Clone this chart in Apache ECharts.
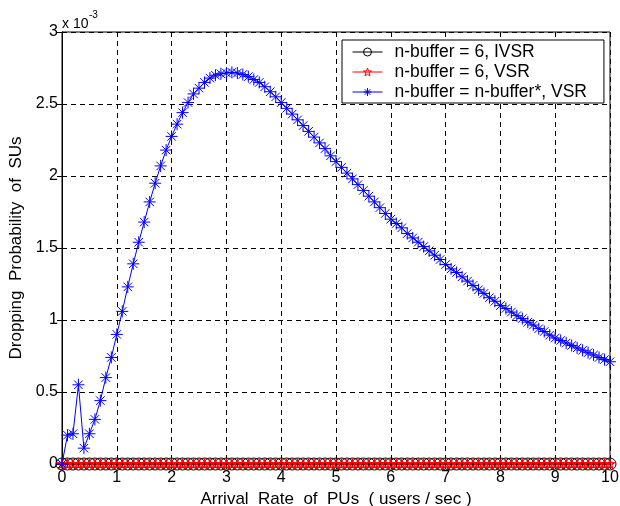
<!DOCTYPE html>
<html>
<head>
<meta charset="utf-8">
<script src="https://cdn.jsdelivr.net/npm/echarts@6/dist/echarts.min.js"></script>
<style>html,body{margin:0;padding:0;background:#fff}#c{width:620px;height:506px}</style>
</head>
<body>
<div id="c"></div>
<script>
// x values: arrival rate (users/sec)
var xValues = [0,0.1,0.2,0.3,0.4,0.5,0.6,0.7,0.8,0.9,1.0,1.1,1.2,1.3,1.4,1.5,1.6,1.7,1.8,1.9,2.0,2.1,2.2,2.3,2.4,2.5,2.6,2.7,2.8,2.9,3.0,3.1,3.2,3.3,3.4,3.5,3.6,3.7,3.8,3.9,4.0,4.1,4.2,4.3,4.4,4.5,4.6,4.7,4.8,4.9,5.0,5.1,5.2,5.3,5.4,5.5,5.6,5.7,5.8,5.9,6.0,6.1,6.2,6.3,6.4,6.5,6.6,6.7,6.8,6.9,7.0,7.1,7.2,7.3,7.4,7.5,7.6,7.7,7.8,7.9,8.0,8.1,8.2,8.3,8.4,8.5,8.6,8.7,8.8,8.9,9.0,9.1,9.2,9.3,9.4,9.5,9.6,9.7,9.8,9.9,10.0];
// dropping probability, in units of 1e-3
var ivsr6 = [0,0,0,0,0,0,0,0,0,0,0,0,0,0,0,0,0,0,0,0,0,0,0,0,0,0,0,0,0,0,0,0,0,0,0,0,0,0,0,0,0,0,0,0,0,0,0,0,0,0,0,0,0,0,0,0,0,0,0,0,0,0,0,0,0,0,0,0,0,0,0,0,0,0,0,0,0,0,0,0,0,0,0,0,0,0,0,0,0,0,0,0,0,0,0,0,0,0,0,0,0];
var vsr6 = [0,0,0,0,0,0,0,0,0,0,0,0,0,0,0,0,0,0,0,0,0,0,0,0,0,0,0,0,0,0,0,0,0,0,0,0,0,0,0,0,0,0,0,0,0,0,0,0,0,0,0,0,0,0,0,0,0,0,0,0,0,0,0,0,0,0,0,0,0,0,0,0,0,0,0,0,0,0,0,0,0,0,0,0,0,0,0,0,0,0,0,0,0,0,0,0,0,0,0,0,0];
var vsrStar = [0,0.20,0.21,0.55,0.11,0.21,0.31,0.44,0.60,0.74,0.90,1.06,1.23,1.39,1.54,1.68,1.82,1.95,2.07,2.18,2.275,2.36,2.44,2.51,2.57,2.61,2.65,2.68,2.70,2.71,2.715,2.72,2.715,2.705,2.69,2.67,2.65,2.62,2.585,2.55,2.51,2.47,2.43,2.39,2.35,2.31,2.27,2.23,2.19,2.14,2.10,2.06,2.02,1.98,1.94,1.90,1.86,1.82,1.78,1.74,1.70,1.67,1.64,1.60,1.57,1.54,1.51,1.48,1.45,1.42,1.385,1.355,1.33,1.30,1.27,1.24,1.21,1.185,1.155,1.13,1.10,1.08,1.055,1.03,1.01,0.985,0.965,0.94,0.92,0.895,0.875,0.858,0.84,0.823,0.806,0.79,0.773,0.757,0.74,0.725,0.71];
var seriesNames = ['n-buffer = 6, IVSR','n-buffer = 6, VSR','n-buffer = n-buffer*, VSR'];
var xTickLabels = ['0','1','2','3','4','5','6','7','8','9','10'];
var yTickLabels = ['0','0.5','1','1.5','2','2.5','3'];

function pairs(ys){ return xValues.map(function(x,i){ return [x, ys[i]]; }); }

var FONT = 'Liberation Sans, Arial, sans-serif';
var asterisk = 'path://M10,0 L10,20 M0,10 L20,10 M2.93,2.93 L17.07,17.07 M2.93,17.07 L17.07,2.93';
var pentagram = 'path://M10,0 L12.35,7.24 L19.51,6.91 L13.8,11.2 L15.88,19.0 L10,14.5 L4.12,19.0 L6.2,11.2 L0.49,6.91 L7.65,7.24 Z';
var seriesColors = ['#000','#f00','#00f'];

var chart = echarts.init(document.getElementById('c'), null, {renderer:'canvas'});
var gridLine = {show:true, lineStyle:{color:'#000', type:[5,4], width:1}};
chart.setOption({
  backgroundColor:'#fff',
  animation:false,
  textStyle:{fontFamily:FONT},
  grid:{left:62, right:10, top:32, bottom:42, show:true, borderColor:'#000', borderWidth:1, backgroundColor:'#fff',
        containLabel:false, outerBoundsMode:'none'},
  legend:{
    orient:'vertical', left:342, top:40,
    backgroundColor:'#fff', borderColor:'#000', borderWidth:1,
    padding:[2,17,1,10], itemGap:0, itemWidth:30, itemHeight:10,
    lineStyle:{width:1},
    textStyle:{fontSize:17.5, lineHeight:20, color:'#000', fontFamily:FONT, padding:[0,0,0,7]},
    data:seriesNames.map(function(n,i){
      return {name:n, itemStyle:{color:'rgba(0,0,0,0)', borderColor:seriesColors[i], borderWidth:1}};
    })
  },
  graphic:[
    {type:'text', left:62, top:17, style:{text:'x 10', font:'14px '+FONT, fill:'#000'}},
    {type:'text', left:89, top:10, style:{text:'-3', font:'10px '+FONT, fill:'#000'}}
  ],
  xAxis:[{
    type:'value', min:0, max:10, interval:1,
    name:'Arrival  Rate  of  PUs  ( users / sec )', nameLocation:'middle', nameGap:20,
    nameTextStyle:{fontSize:17, color:'#000', fontFamily:FONT},
    axisLine:{show:true, lineStyle:{color:'#000'}},
    axisTick:{show:true, inside:true, length:5, lineStyle:{color:'#000'}},
    axisLabel:{color:'#000', fontSize:16, margin:6, fontFamily:FONT,
      formatter:function(v){ var i = Math.round(v); return xTickLabels[i] !== undefined ? xTickLabels[i] : ''; }},
    splitLine:gridLine
  },{
    type:'value', min:0, max:10, interval:1, position:'top',
    axisLine:{show:true, lineStyle:{color:'#000'}},
    axisTick:{show:true, inside:true, length:5, lineStyle:{color:'#000'}},
    axisLabel:{show:false}, splitLine:{show:false}
  }],
  yAxis:[{
    type:'value', min:0, max:3, interval:0.5,
    name:'Dropping  Probability  of  SUs', nameLocation:'middle', nameGap:28,
    nameTextStyle:{fontSize:17, color:'#000', fontFamily:FONT},
    axisLine:{show:true, lineStyle:{color:'#000'}},
    axisTick:{show:true, inside:true, length:5, lineStyle:{color:'#000'}},
    axisLabel:{color:'#000', fontSize:16, margin:4, fontFamily:FONT,
      formatter:function(v){ var i = Math.round(v*2); return yTickLabels[i] !== undefined ? yTickLabels[i] : ''; }},
    splitLine:gridLine
  },{
    type:'value', min:0, max:3, interval:0.5, position:'right',
    axisLine:{show:true, lineStyle:{color:'#000'}},
    axisTick:{show:true, inside:true, length:5, lineStyle:{color:'#000'}},
    axisLabel:{show:false}, splitLine:{show:false}
  }],
  series:[
    {name:seriesNames[0], type:'line', data:pairs(ivsr6), symbol:'circle', symbolSize:12,
      showAllSymbol:true, clip:false,
      lineStyle:{color:seriesColors[0], width:1}, itemStyle:{color:'none', borderColor:seriesColors[0], borderWidth:1}},
    {name:seriesNames[1], type:'line', data:pairs(vsr6), symbol:pentagram, symbolSize:9,
      showAllSymbol:true, clip:false,
      lineStyle:{color:seriesColors[1], width:1.5}, itemStyle:{color:'none', borderColor:seriesColors[1], borderWidth:1.2}},
    {name:seriesNames[2], type:'line', data:pairs(vsrStar), symbol:asterisk, symbolSize:12,
      showAllSymbol:true, clip:false,
      lineStyle:{color:seriesColors[2], width:1}, itemStyle:{color:'none', borderColor:seriesColors[2], borderWidth:1}}
  ]
});
</script>
</body>
</html>
